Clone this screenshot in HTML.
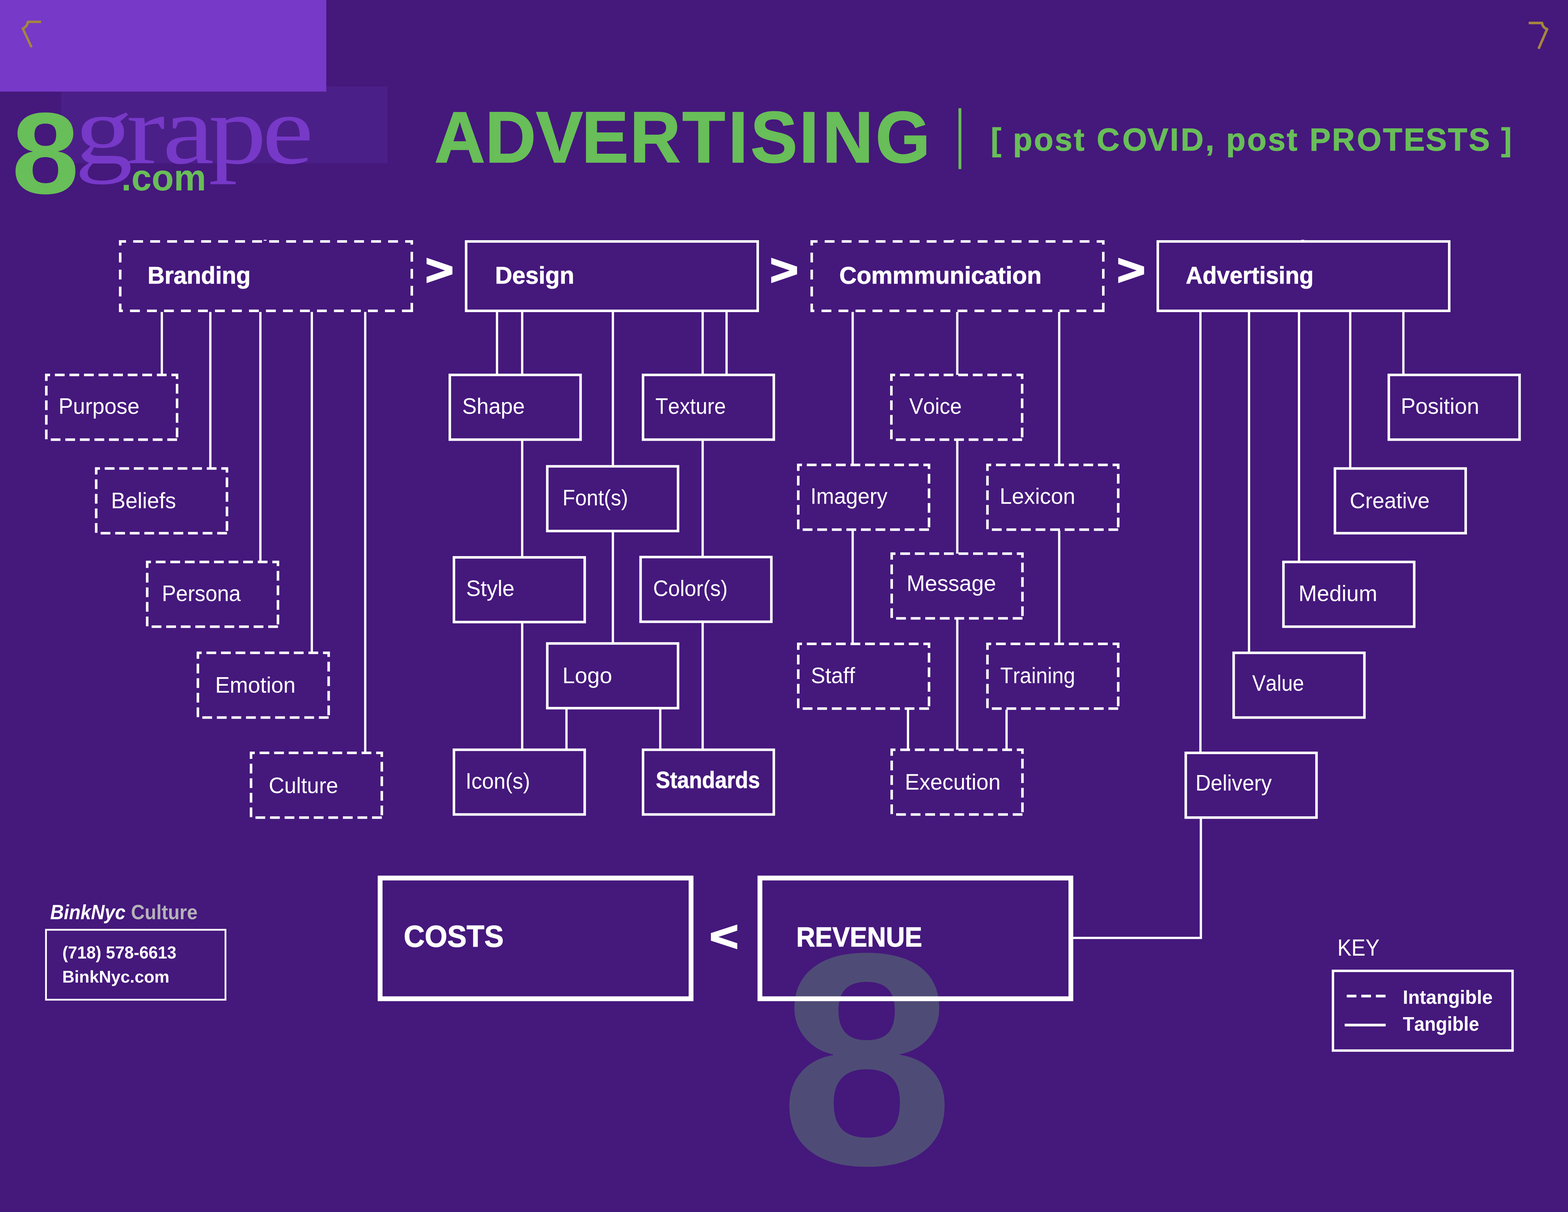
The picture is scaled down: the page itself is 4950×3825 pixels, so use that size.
<!DOCTYPE html>
<html lang="en">
<head>
<meta charset="utf-8">
<title>8grape.com - ADVERTISING [ post COVID, post PROTESTS ]</title>
<style>
html,body{margin:0;padding:0;background:#45187c;}
body{width:4950px;height:3825px;overflow:hidden;}
svg{display:block;}
text{white-space:pre;font-kerning:none;}
</style>
</head>
<body>
<svg width="4950" height="3825" viewBox="0 0 4950 3825">
<rect width="4950" height="3825" fill="#45187c"/>
<rect x="193" y="273" width="1030" height="242" fill="#4b1f88"/>
<rect x="0" y="0" width="1030" height="289" fill="#7739c8"/>
<path d="M130 69H88Q86 84 72 90L99.5 149" fill="none" stroke="#a5873d" stroke-width="7.5" stroke-linejoin="round"/>
<path d="M4826 72.5H4868Q4870 87 4884 92L4857 154" fill="none" stroke="#a5873d" stroke-width="8" stroke-linejoin="round"/>
<rect x="3025.8" y="341.5" width="9" height="192" fill="#68be58"/>
<text transform="translate(2460.18 3673.18) scale(1.0410 1)" font-family="'Liberation Sans', Arial, Helvetica, sans-serif" font-size="954.09" font-weight="bold" font-style="normal" fill="#4e4c76">8</text>
<path d="M1300.0 981.0H379.5V762.0H1300.0Z" fill="none" stroke="#fff" stroke-width="8.0" stroke-dasharray="31 22.66"/>
<rect x="1471.5" y="762.0" width="920.5" height="219.0" fill="none" stroke="#fff" stroke-width="8.0"/>
<path d="M3483.0 981.0H2562.5V762.0H3483.0Z" fill="none" stroke="#fff" stroke-width="8.0" stroke-dasharray="31 22.66"/>
<rect x="3655.0" y="762.0" width="920.0" height="219.0" fill="none" stroke="#fff" stroke-width="8.0"/>
<rect x="832.5" y="756.8" width="9" height="3" fill="#fff"/>
<rect x="3005" y="756.8" width="7.5" height="3" fill="#fff"/>
<rect x="4108" y="756.8" width="9.5" height="2.5" fill="#fff"/>
<path d="M559.0 1387.4H146.2V1183.2H559.0Z" fill="none" stroke="#fff" stroke-width="8.0" stroke-dasharray="30.8 15.2"/>
<path d="M716.5 1682.7H303.7V1478.5H716.5Z" fill="none" stroke="#fff" stroke-width="8.0" stroke-dasharray="30.8 15.2"/>
<path d="M877.5 1977.7H464.7V1773.5H877.5Z" fill="none" stroke="#fff" stroke-width="8.0" stroke-dasharray="30.8 15.2"/>
<path d="M1037.5 2264.5H624.7V2060.3H1037.5Z" fill="none" stroke="#fff" stroke-width="8.0" stroke-dasharray="30.8 15.2"/>
<path d="M1205.3 2580.2H792.5V2376.0H1205.3Z" fill="none" stroke="#fff" stroke-width="8.0" stroke-dasharray="30.8 15.2"/>
<path d="M510.9 984.5V1183.2" fill="none" stroke="#fff" stroke-width="7.2"/>
<path d="M664.0 984.5V1478.5" fill="none" stroke="#fff" stroke-width="7.2"/>
<path d="M822.0 984.5V1773.5" fill="none" stroke="#fff" stroke-width="7.2"/>
<path d="M984.4 984.5V2060.3" fill="none" stroke="#fff" stroke-width="7.2"/>
<path d="M1153.0 984.5V2376.0" fill="none" stroke="#fff" stroke-width="7.2"/>
<rect x="1420.0" y="1183.2" width="412.8" height="204.2" fill="none" stroke="#fff" stroke-width="8.0"/>
<rect x="2030.0" y="1183.2" width="412.8" height="204.2" fill="none" stroke="#fff" stroke-width="8.0"/>
<rect x="1727.7" y="1471.7" width="412.8" height="204.2" fill="none" stroke="#fff" stroke-width="8.0"/>
<rect x="1433.0" y="1759.0" width="412.8" height="204.2" fill="none" stroke="#fff" stroke-width="8.0"/>
<rect x="2022.3" y="1758.0" width="412.8" height="204.2" fill="none" stroke="#fff" stroke-width="8.0"/>
<rect x="1727.7" y="2030.7" width="412.8" height="204.2" fill="none" stroke="#fff" stroke-width="8.0"/>
<rect x="1433.0" y="2366.2" width="412.8" height="204.2" fill="none" stroke="#fff" stroke-width="8.0"/>
<rect x="2030.0" y="2366.2" width="412.8" height="204.2" fill="none" stroke="#fff" stroke-width="8.0"/>
<path d="M1569.0 984.5V1183.2" fill="none" stroke="#fff" stroke-width="7.2"/>
<path d="M1648.5 984.5V1183.2" fill="none" stroke="#fff" stroke-width="7.2"/>
<path d="M1648.5 1390.9V1759.0" fill="none" stroke="#fff" stroke-width="7.2"/>
<path d="M1648.5 1966.7V2366.2" fill="none" stroke="#fff" stroke-width="7.2"/>
<path d="M1934.8 984.5V1471.7" fill="none" stroke="#fff" stroke-width="7.2"/>
<path d="M1934.8 1679.4V2030.7" fill="none" stroke="#fff" stroke-width="7.2"/>
<path d="M2218.2 984.5V1183.2" fill="none" stroke="#fff" stroke-width="7.2"/>
<path d="M2218.2 1390.9V1758.0" fill="none" stroke="#fff" stroke-width="7.2"/>
<path d="M2218.2 1965.7V2366.2" fill="none" stroke="#fff" stroke-width="7.2"/>
<path d="M2293.7 984.5V1183.2" fill="none" stroke="#fff" stroke-width="7.2"/>
<path d="M1788.3 2238.4V2366.2" fill="none" stroke="#fff" stroke-width="7.2"/>
<path d="M2084.4 2238.4V2366.2" fill="none" stroke="#fff" stroke-width="7.2"/>
<path d="M3226.8 1387.4H2814.0V1183.2H3226.8Z" fill="none" stroke="#fff" stroke-width="8.0" stroke-dasharray="30.8 15.2"/>
<path d="M2932.8 1671.4H2520.0V1467.2H2932.8Z" fill="none" stroke="#fff" stroke-width="8.0" stroke-dasharray="30.8 15.2"/>
<path d="M3530.1 1671.4H3117.3V1467.2H3530.1Z" fill="none" stroke="#fff" stroke-width="8.0" stroke-dasharray="30.8 15.2"/>
<path d="M3227.8 1951.5H2815.0V1747.3H3227.8Z" fill="none" stroke="#fff" stroke-width="8.0" stroke-dasharray="30.8 15.2"/>
<path d="M2932.8 2236.2H2520.0V2032.0H2932.8Z" fill="none" stroke="#fff" stroke-width="8.0" stroke-dasharray="30.8 15.2"/>
<path d="M3530.1 2236.2H3117.3V2032.0H3530.1Z" fill="none" stroke="#fff" stroke-width="8.0" stroke-dasharray="30.8 15.2"/>
<path d="M3227.8 2570.4H2815.0V2366.2H3227.8Z" fill="none" stroke="#fff" stroke-width="8.0" stroke-dasharray="30.8 15.2"/>
<path d="M2691.8 984.5V1467.2" fill="none" stroke="#fff" stroke-width="7.2"/>
<path d="M2691.8 1674.9V2032.0" fill="none" stroke="#fff" stroke-width="7.2"/>
<path d="M3022.0 984.5V1183.2" fill="none" stroke="#fff" stroke-width="7.2"/>
<path d="M3022.0 1390.9V1747.3" fill="none" stroke="#fff" stroke-width="7.2"/>
<path d="M3022.0 1955.0V2366.2" fill="none" stroke="#fff" stroke-width="7.2"/>
<path d="M3343.8 984.5V1467.2" fill="none" stroke="#fff" stroke-width="7.2"/>
<path d="M3343.8 1674.9V2032.0" fill="none" stroke="#fff" stroke-width="7.2"/>
<path d="M2866.4 2239.7V2366.2" fill="none" stroke="#fff" stroke-width="7.2"/>
<path d="M3177.6 2239.7V2366.2" fill="none" stroke="#fff" stroke-width="7.2"/>
<rect x="4384.3" y="1183.2" width="412.8" height="204.2" fill="none" stroke="#fff" stroke-width="8.0"/>
<rect x="4214.2" y="1478.5" width="412.8" height="204.2" fill="none" stroke="#fff" stroke-width="8.0"/>
<rect x="4051.7" y="1773.5" width="412.8" height="204.2" fill="none" stroke="#fff" stroke-width="8.0"/>
<rect x="3894.5" y="2060.3" width="412.8" height="204.2" fill="none" stroke="#fff" stroke-width="8.0"/>
<rect x="3743.3" y="2376.0" width="412.8" height="204.2" fill="none" stroke="#fff" stroke-width="8.0"/>
<path d="M3789.6 984.5V2376.0" fill="none" stroke="#fff" stroke-width="7.2"/>
<path d="M3943.0 984.5V2060.3" fill="none" stroke="#fff" stroke-width="7.2"/>
<path d="M4100.8 984.5V1773.5" fill="none" stroke="#fff" stroke-width="7.2"/>
<path d="M4262.5 984.5V1478.5" fill="none" stroke="#fff" stroke-width="7.2"/>
<path d="M4430.3 984.5V1183.2" fill="none" stroke="#fff" stroke-width="7.2"/>
<path d="M3791 2580.2V2960H3388" fill="none" stroke="#fff" stroke-width="7.2"/>
<rect x="1200.0" y="2771.0" width="981.6" height="381.0" fill="none" stroke="#fff" stroke-width="15.2"/>
<rect x="2399.0" y="2771.0" width="981.6" height="381.0" fill="none" stroke="#fff" stroke-width="15.2"/>
<rect x="145.2" y="2934.3" width="566.6" height="220.7" fill="none" stroke="#fff" stroke-width="5.6"/>
<rect x="4208.0" y="3064.0" width="567.0" height="251.5" fill="none" stroke="#fff" stroke-width="7.6"/>
<path d="M4251.5 3143.5H4374.4" stroke="#fff" stroke-width="8.3" stroke-dasharray="30.5 15.5" fill="none"/>
<path d="M4245 3235H4374.4" stroke="#fff" stroke-width="8.3" fill="none"/>
<text transform="scale(1.1755 1)" x="200.8 339.6 436.7 560.0 704.0" y="515.00" font-family="'Liberation Serif', 'Times New Roman', serif" font-size="311.14" font-weight="normal" font-style="normal" fill="#7739c8">grape</text>
<text transform="translate(36.85 609.93) scale(1.0486 1)" font-family="'Liberation Sans', Arial, Helvetica, sans-serif" font-size="365.11" font-weight="bold" font-style="normal" fill="#68be58">8</text>
<text transform="translate(382.81 600.60) scale(0.9870 1)" font-family="'Liberation Sans', Arial, Helvetica, sans-serif" font-size="116.34" font-weight="bold" font-style="normal" fill="#68be58">.com</text>
<text transform="scale(0.9671 1)" x="1418.2 1584.1 1749.8 1899.1 2056.2 2227.4 2377.6 2450.0 2608.9 2684.8 2858.1" y="512.30" font-family="'Liberation Sans', Arial, Helvetica, sans-serif" font-size="229.07" font-weight="bold" font-style="normal" fill="#68be58" stroke="#68be58" stroke-width="3" stroke-linejoin="miter">ADVERTISING</text>
<text transform="scale(0.9888 1)" x="3163.3 3196.9 3234.3 3301.2 3367.4 3428.4 3462.0 3501.6 3583.3 3663.0 3735.1 3769.7 3848.5 3876.5 3914.9 3981.9 4048.2 4108.2 4141.8 4181.2 4252.6 4332.0 4415.4 4481.8 4551.7 4622.8 4689.3 4756.6 4792.8" y="475.05" font-family="'Liberation Sans', Arial, Helvetica, sans-serif" font-size="100.87" font-weight="bold" font-style="normal" fill="#68be58" stroke="#68be58" stroke-width="1.5" stroke-linejoin="miter">[ post COVID, post PROTESTS ]</text>
<text transform="translate(466.04 895.00) scale(0.9689 1)" font-family="'Liberation Sans', Arial, Helvetica, sans-serif" font-size="76.45" font-weight="bold" font-style="normal" fill="#fff" stroke="#fff" stroke-width="1.2" stroke-linejoin="miter">Branding</text>
<text transform="translate(1562.99 895.00) scale(0.9798 1)" font-family="'Liberation Sans', Arial, Helvetica, sans-serif" font-size="76.45" font-weight="bold" font-style="normal" fill="#fff" stroke="#fff" stroke-width="1.2" stroke-linejoin="miter">Design</text>
<text transform="translate(2649.80 895.00) scale(0.9889 1)" font-family="'Liberation Sans', Arial, Helvetica, sans-serif" font-size="76.45" font-weight="bold" font-style="normal" fill="#fff" stroke="#fff" stroke-width="1.2" stroke-linejoin="miter">Commmunication</text>
<text transform="translate(3743.47 895.00) scale(0.9590 1)" font-family="'Liberation Sans', Arial, Helvetica, sans-serif" font-size="76.45" font-weight="bold" font-style="normal" fill="#fff" stroke="#fff" stroke-width="1.2" stroke-linejoin="miter">Advertising</text>
<text transform="translate(1342.55 898.82) scale(1.1262 1)" font-family="'Liberation Sans', Arial, Helvetica, sans-serif" font-size="136.35" font-weight="bold" font-style="normal" fill="#fff" stroke="#fff" stroke-width="4" stroke-linejoin="miter">&gt;</text>
<text transform="translate(2430.55 898.82) scale(1.1262 1)" font-family="'Liberation Sans', Arial, Helvetica, sans-serif" font-size="136.35" font-weight="bold" font-style="normal" fill="#fff" stroke="#fff" stroke-width="4" stroke-linejoin="miter">&gt;</text>
<text transform="translate(3525.95 898.82) scale(1.1262 1)" font-family="'Liberation Sans', Arial, Helvetica, sans-serif" font-size="136.35" font-weight="bold" font-style="normal" fill="#fff" stroke="#fff" stroke-width="4" stroke-linejoin="miter">&gt;</text>
<text transform="translate(2239.93 3001.15) scale(1.1720 1)" font-family="'Liberation Sans', Arial, Helvetica, sans-serif" font-size="133.57" font-weight="bold" font-style="normal" fill="#fff" stroke="#fff" stroke-width="4" stroke-linejoin="miter">&lt;</text>
<text transform="translate(184.77 1305.60) scale(0.9714 1)" font-family="'Liberation Sans', Arial, Helvetica, sans-serif" font-size="70.64" font-weight="normal" font-style="normal" fill="#fff">Purpose</text>
<text transform="translate(350.60 1604.00) scale(0.9667 1)" font-family="'Liberation Sans', Arial, Helvetica, sans-serif" font-size="70.64" font-weight="normal" font-style="normal" fill="#fff">Beliefs</text>
<text transform="translate(511.01 1897.00) scale(0.9467 1)" font-family="'Liberation Sans', Arial, Helvetica, sans-serif" font-size="70.64" font-weight="normal" font-style="normal" fill="#fff">Persona</text>
<text transform="translate(679.22 2186.40) scale(0.9797 1)" font-family="'Liberation Sans', Arial, Helvetica, sans-serif" font-size="70.64" font-weight="normal" font-style="normal" fill="#fff">Emotion</text>
<text transform="translate(848.45 2503.00) scale(0.9625 1)" font-family="'Liberation Sans', Arial, Helvetica, sans-serif" font-size="70.64" font-weight="normal" font-style="normal" fill="#fff">Culture</text>
<text transform="translate(1459.30 1305.50) scale(0.9671 1)" font-family="'Liberation Sans', Arial, Helvetica, sans-serif" font-size="70.64" font-weight="normal" font-style="normal" fill="#fff">Shape</text>
<text transform="translate(2069.03 1305.50) scale(0.9286 1)" font-family="'Liberation Sans', Arial, Helvetica, sans-serif" font-size="70.64" font-weight="normal" font-style="normal" fill="#fff">Texture</text>
<text transform="translate(1775.84 1594.90) scale(0.9249 1)" font-family="'Liberation Sans', Arial, Helvetica, sans-serif" font-size="70.64" font-weight="normal" font-style="normal" fill="#fff">Font(s)</text>
<text transform="translate(1471.38 1880.50) scale(0.9741 1)" font-family="'Liberation Sans', Arial, Helvetica, sans-serif" font-size="70.64" font-weight="normal" font-style="normal" fill="#fff">Style</text>
<text transform="translate(2061.84 1880.50) scale(0.9367 1)" font-family="'Liberation Sans', Arial, Helvetica, sans-serif" font-size="70.64" font-weight="normal" font-style="normal" fill="#fff">Color(s)</text>
<text transform="translate(1775.40 2155.50) scale(1.0001 1)" font-family="'Liberation Sans', Arial, Helvetica, sans-serif" font-size="70.64" font-weight="normal" font-style="normal" fill="#fff">Logo</text>
<text transform="translate(1469.85 2488.60) scale(0.9430 1)" font-family="'Liberation Sans', Arial, Helvetica, sans-serif" font-size="70.64" font-weight="normal" font-style="normal" fill="#fff">Icon(s)</text>
<text transform="translate(2070.56 2487.40) scale(0.9175 1)" font-family="'Liberation Sans', Arial, Helvetica, sans-serif" font-size="73.26" font-weight="bold" font-style="normal" fill="#fff" stroke="#fff" stroke-width="1" stroke-linejoin="miter">Standards</text>
<text transform="translate(2870.31 1305.50) scale(0.9391 1)" font-family="'Liberation Sans', Arial, Helvetica, sans-serif" font-size="70.64" font-weight="normal" font-style="normal" fill="#fff">Voice</text>
<text transform="translate(2558.39 1589.60) scale(0.9532 1)" font-family="'Liberation Sans', Arial, Helvetica, sans-serif" font-size="70.64" font-weight="normal" font-style="normal" fill="#fff">Imagery</text>
<text transform="translate(3155.82 1589.60) scale(0.9803 1)" font-family="'Liberation Sans', Arial, Helvetica, sans-serif" font-size="70.64" font-weight="normal" font-style="normal" fill="#fff">Lexicon</text>
<text transform="translate(2861.88 1864.60) scale(0.9863 1)" font-family="'Liberation Sans', Arial, Helvetica, sans-serif" font-size="70.64" font-weight="normal" font-style="normal" fill="#fff">Message</text>
<text transform="translate(2560.12 2155.50) scale(0.9587 1)" font-family="'Liberation Sans', Arial, Helvetica, sans-serif" font-size="70.64" font-weight="normal" font-style="normal" fill="#fff">Staff</text>
<text transform="translate(3157.73 2155.50) scale(0.9266 1)" font-family="'Liberation Sans', Arial, Helvetica, sans-serif" font-size="70.64" font-weight="normal" font-style="normal" fill="#fff">Training</text>
<text transform="translate(2856.55 2491.60) scale(0.9742 1)" font-family="'Liberation Sans', Arial, Helvetica, sans-serif" font-size="70.64" font-weight="normal" font-style="normal" fill="#fff">Execution</text>
<text transform="translate(4421.99 1305.50) scale(0.9862 1)" font-family="'Liberation Sans', Arial, Helvetica, sans-serif" font-size="70.64" font-weight="normal" font-style="normal" fill="#fff">Position</text>
<text transform="translate(4261.06 1604.00) scale(0.9590 1)" font-family="'Liberation Sans', Arial, Helvetica, sans-serif" font-size="70.64" font-weight="normal" font-style="normal" fill="#fff">Creative</text>
<text transform="translate(4099.37 1897.00) scale(0.9892 1)" font-family="'Liberation Sans', Arial, Helvetica, sans-serif" font-size="70.64" font-weight="normal" font-style="normal" fill="#fff">Medium</text>
<text transform="translate(3952.92 2180.40) scale(0.9062 1)" font-family="'Liberation Sans', Arial, Helvetica, sans-serif" font-size="70.64" font-weight="normal" font-style="normal" fill="#fff">Value</text>
<text transform="translate(3773.93 2494.60) scale(0.9446 1)" font-family="'Liberation Sans', Arial, Helvetica, sans-serif" font-size="70.64" font-weight="normal" font-style="normal" fill="#fff">Delivery</text>
<text transform="translate(1274.49 2987.55) scale(0.9511 1)" font-family="'Liberation Sans', Arial, Helvetica, sans-serif" font-size="96.37" font-weight="bold" font-style="normal" fill="#fff" stroke="#fff" stroke-width="1.5" stroke-linejoin="miter">COSTS</text>
<text transform="translate(2513.75 2987.25) scale(0.9473 1)" font-family="'Liberation Sans', Arial, Helvetica, sans-serif" font-size="86.77" font-weight="bold" font-style="normal" fill="#fff" stroke="#fff" stroke-width="1.5" stroke-linejoin="miter">REVENUE</text>
<text transform="translate(158.45 2901.20) scale(0.9255 1)" font-family="'Liberation Sans', Arial, Helvetica, sans-serif" font-size="64.25" font-weight="bold" font-style="italic" fill="#fff">BinkNyc</text>
<text transform="translate(413.54 2901.20) scale(0.9340 1)" font-family="'Liberation Sans', Arial, Helvetica, sans-serif" font-size="64.25" font-weight="bold" font-style="normal" fill="#b4b2b8">Culture</text>
<text transform="translate(196.88 3025.20) scale(0.9408 1)" font-family="'Liberation Sans', Arial, Helvetica, sans-serif" font-size="55.96" font-weight="bold" font-style="normal" fill="#fff">(718) 578-6613</text>
<text transform="translate(196.43 3100.50) scale(0.9985 1)" font-family="'Liberation Sans', Arial, Helvetica, sans-serif" font-size="53.49" font-weight="bold" font-style="normal" fill="#fff">BinkNyc.com</text>
<text transform="translate(4222.05 3015.50) scale(0.9049 1)" font-family="'Liberation Sans', Arial, Helvetica, sans-serif" font-size="73.40" font-weight="normal" font-style="normal" fill="#fff">KEY</text>
<text transform="translate(4428.48 3167.70) scale(0.9837 1)" font-family="'Liberation Sans', Arial, Helvetica, sans-serif" font-size="61.05" font-weight="bold" font-style="normal" fill="#fff">Intangible</text>
<text transform="translate(4428.64 3252.90) scale(0.9439 1)" font-family="'Liberation Sans', Arial, Helvetica, sans-serif" font-size="62.07" font-weight="bold" font-style="normal" fill="#fff">Tangible</text>
</svg>
</body>
</html>
